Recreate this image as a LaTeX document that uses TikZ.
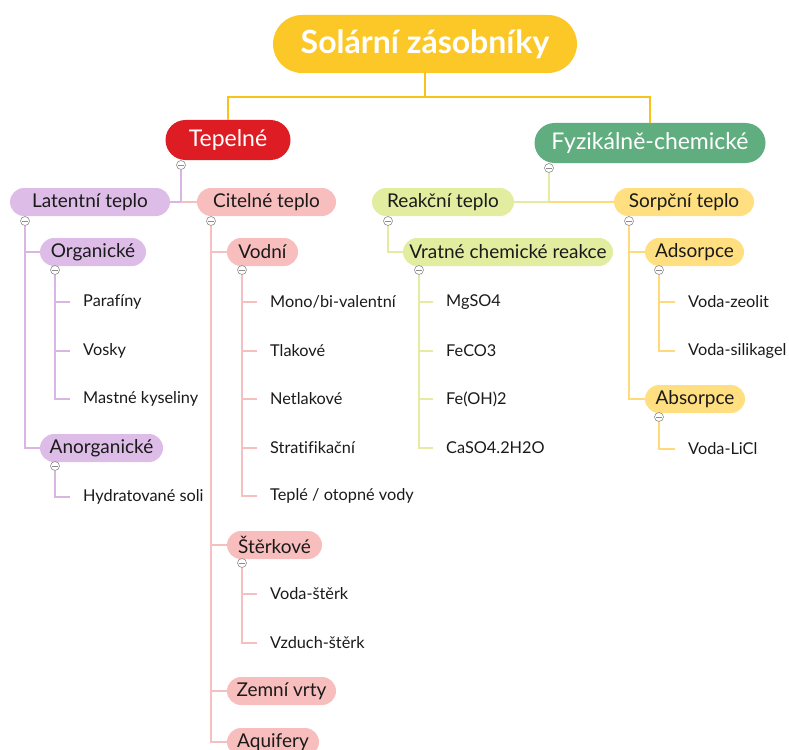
\documentclass[tikz,border=0pt]{standalone}
\usepackage{fontspec}
\setmainfont{Lato}[Ligatures=NoCommon]
\definecolor{rootY}{HTML}{FCC828}
\definecolor{rootL}{HTML}{F7C31B}
\definecolor{tepR}{HTML}{DD1C24}
\definecolor{fyzG}{HTML}{60AD7F}
\definecolor{purF}{HTML}{DDBDE8}
\definecolor{purL}{HTML}{D9B5E3}
\definecolor{pinF}{HTML}{F8BDBD}
\definecolor{pinL}{HTML}{F6C0C0}
\definecolor{grnF}{HTML}{E3EDA0}
\definecolor{grnL}{HTML}{E6EBA2}
\definecolor{yelF}{HTML}{FFDF80}
\definecolor{yelL}{HTML}{FFDA7A}
\definecolor{txt}{HTML}{1A1A1A}
\begin{document}
\begin{tikzpicture}[x=1pt,y=-1pt,
  box/.style={rounded corners=14pt, inner sep=0pt, minimum height=28pt, text=txt,
    font=\fontsize{19}{22}\selectfont},
  big/.style={rounded corners=20pt, inner sep=0pt, minimum height=40pt, text=white,
    font=\fontsize{23}{26}\selectfont},
  leaf/.style={anchor=west, inner xsep=13pt, inner ysep=2pt, text=txt,
    font=\fontsize{16.3}{19}\selectfont},
  collapse/.style={circle, draw=black!45, fill=white, inner sep=0pt, minimum size=9pt,
    line width=0.6pt, path picture={\draw[black!45, line width=0.6pt]
      ([xshift=-3pt]path picture bounding box.center) -- ([xshift=3pt]path picture bounding box.center);}},
  cp/.style={draw=purL, line width=1.5pt},
  cn/.style={draw=pinL, line width=1.5pt},
  cg/.style={draw=grnL, line width=1.5pt},
  cy/.style={draw=yelL, line width=1.5pt},
]
\useasboundingbox (0,0) rectangle (789,749);
\clip (0,0) rectangle (789,749);

% root and main branches
\node[rounded corners=29pt, fill=rootY, minimum width=304pt, minimum height=58pt, inner sep=0pt,
  text=white, font=\fontsize{32}{36}\selectfont\bfseries] (root) at (425,44) {Solární zásobníky};
\node[big, fill=tepR, minimum width=125pt] (tep) at (228,140) {Tepelné};
\node[big, fill=fyzG, minimum width=231pt] (fyz) at (650,143) {Fyzikálně-chemické};
\draw[draw=rootL, line width=2.5pt] (root.south) -- ++(0,24) coordinate (rj) -| (tep.north);
\draw[draw=rootL, line width=2.5pt] (rj) -| (fyz.north);

% second level
\node[box, fill=purF, minimum width=160pt] (lat) at (90,202) {Latentní teplo};
\node[box, fill=pinF, minimum width=139pt] (cit) at (266.5,202) {Citelné teplo};
\node[box, fill=grnF, minimum width=142pt] (rea) at (443,202) {Reakční teplo};
\node[box, fill=yelF, minimum width=140pt] (sor) at (684,202) {Sorpční teplo};

% collapse markers
\node[collapse] (mT) at (181,165) {};
\node[collapse] (mF) at (549,168) {};
\node[collapse] (mLat) at (25,221) {};
\node[collapse] (mCit) at (211,221) {};
\node[collapse] (mRea) at (388,221) {};
\node[collapse] (mSor) at (629,221) {};

\draw[cp] (mT.south) |- (lat.east);
\draw[cn] (mT.south |- cit.west) -- (cit.west);
\draw[cg] (mF.south) |- (rea.east);
\draw[cy] (mF.south |- sor.west) -- (sor.west);

% third level
\node[box, fill=purF, minimum width=106pt] (org) at (93,252) {Organické};
\node[box, fill=purF, minimum width=123pt] (ano) at (101.5,448) {Anorganické};
\node[box, fill=pinF, minimum width=71pt] (vod) at (262.5,252) {Vodní};
\node[box, fill=pinF, minimum width=95pt] (ste) at (274.5,545) {Štěrkové};
\node[box, fill=pinF, minimum width=109pt] (zem) at (281.5,691) {Zemní vrty};
\node[box, fill=pinF, minimum width=92pt] (aqu) at (273,742) {Aquifery};
\node[box, fill=grnF, minimum width=210pt] (vra) at (508,252) {Vratné chemické reakce};
\node[box, fill=yelF, minimum width=99pt] (ads) at (694.5,252) {Adsorpce};
\node[box, fill=yelF, minimum width=100pt] (abs) at (695,399) {Absorpce};

\draw[cp] (mLat.south) |- (org.west);
\draw[cp] (mLat.south) |- (ano.west);
\draw[cn] (mCit.south) |- (vod.west);
\draw[cn] (mCit.south) |- (ste.west);
\draw[cn] (mCit.south) |- (zem.west);
\draw[cn] (mCit.south) |- (aqu.west);
\draw[cg] (mRea.south) |- (vra.west);
\draw[cy] (mSor.south) |- (ads.west);
\draw[cy] (mSor.south) |- (abs.west);

\node[collapse] (mOrg) at (55,270) {};
\node[collapse] (mAno) at (55,466) {};
\node[collapse] (mVod) at (242,270) {};
\node[collapse] (mSte) at (242,563) {};
\node[collapse] (mVra) at (419,270) {};
\node[collapse] (mAds) at (659,270) {};
\node[collapse] (mAbs) at (659,417) {};

% leaves
\node[leaf] (l1) at (70,302) {Parafíny};
\node[leaf] (l2) at (70,351) {Vosky};
\node[leaf] (l3) at (70,399) {Mastné kyseliny};
\node[leaf] (l4) at (70,497) {Hydratované soli};
\foreach \n in {l1,l2,l3} \draw[cp] (mOrg.south) |- (\n.west);
\draw[cp] (mAno.south) |- (l4.west);

\node[leaf] (v1) at (257,302) {Mono/bi-valentní};
\node[leaf] (v2) at (257,351) {Tlakové};
\node[leaf] (v3) at (257,399) {Netlakové};
\node[leaf] (v4) at (257,448) {Stratifikační};
\node[leaf] (v5) at (257,496) {Teplé / otopné vody};
\foreach \n in {v1,v2,v3,v4,v5} \draw[cn] (mVod.south) |- (\n.west);

\node[leaf] (s1) at (257,594) {Voda-štěrk};
\node[leaf] (s2) at (257,643) {Vzduch-štěrk};
\foreach \n in {s1,s2} \draw[cn] (mSte.south) |- (\n.west);

\node[leaf] (r1) at (433,302) {MgSO4};
\node[leaf] (r2) at (433,351) {FeCO3};
\node[leaf] (r3) at (433,399) {Fe(OH)2};
\node[leaf] (r4) at (433,448) {CaSO4.2H2O};
\foreach \n in {r1,r2,r3,r4} \draw[cg] (mVra.south) |- (\n.west);

\node[leaf] (a1) at (675,302) {Voda-zeolit};
\node[leaf] (a2) at (675,351) {Voda-silikagel};
\node[leaf] (b1) at (675,449) {Voda-LiCl};
\foreach \n in {a1,a2} \draw[cy] (mAds.south) |- (\n.west);
\draw[cy] (mAbs.south) |- (b1.west);
\end{tikzpicture}
\end{document}
